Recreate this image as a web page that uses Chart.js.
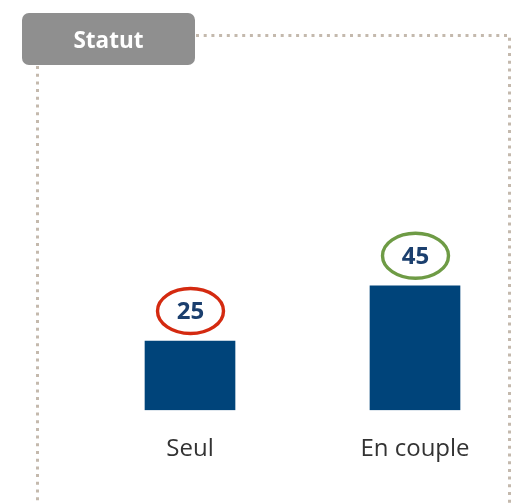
<!DOCTYPE html>
<html>
<head>
<meta charset="utf-8">
<script src="https://cdn.jsdelivr.net/npm/chart.js@4"></script>
<style>
  html, body { margin: 0; padding: 0; background: #fff; }
  #wrap { width: 517px; height: 504px; position: relative; }
</style>
</head>
<body>
<div id="wrap"><canvas id="myChart"></canvas></div>
<script>
const categories = ["Seul", "En couple"];
const values = [25, 45];
const ringColors = ["#d42a10", "#6e9b45"];
const panelTitle = "Statut";

// frame + title tab + circled value labels
const decorations = {
  id: "decorations",
  beforeDraw(chart) {
    const ctx = chart.ctx;
    ctx.save();
    ctx.strokeStyle = "#c4b9ad";
    ctx.lineWidth = 3;
    ctx.setLineDash([3, 4.7]);
    ctx.beginPath();
    ctx.moveTo(196, 35.5);
    ctx.lineTo(509.5, 35.5);
    ctx.lineTo(509.5, 510);
    ctx.moveTo(37.5, 66);
    ctx.lineTo(37.5, 510);
    ctx.stroke();
    ctx.setLineDash([]);

    ctx.fillStyle = "#8f8f8f";
    ctx.beginPath();
    ctx.roundRect(22, 13, 173, 52, 7);
    ctx.fill();
    ctx.fillStyle = "#ffffff";
    ctx.font = "bold 22.5px 'Open Sans'";
    ctx.textAlign = "center";
    ctx.textBaseline = "middle";
    ctx.fillText(panelTitle, 108.5, 42);
    ctx.restore();
  },
  afterDatasetsDraw(chart) {
    const ctx = chart.ctx;
    const meta = chart.getDatasetMeta(0);
    ctx.save();
    meta.data.forEach((bar, i) => {
      const cx = bar.x + 0.5;
      const cy = bar.y - 30;
      ctx.beginPath();
      ctx.ellipse(cx, cy, 33, 22.5, 0, 0, Math.PI * 2);
      ctx.lineWidth = 3.4;
      ctx.strokeStyle = ringColors[i];
      ctx.stroke();
      ctx.fillStyle = "#1b3f6e";
      ctx.font = "bold 24px 'Open Sans'";
      ctx.textAlign = "center";
      ctx.textBaseline = "middle";
      ctx.fillText(String(values[i]), cx, cy + 1);
    });
    ctx.restore();
  }
};

new Chart(document.getElementById("myChart"), {
  type: "bar",
  data: {
    datasets: [
      {
        data: values.map((v, i) => ({ x: i, y: v })),
        backgroundColor: "#00447a",
        barThickness: 90,
      },
    ],
  },
  options: {
    responsive: true,
    maintainAspectRatio: false,
    animation: false,
    layout: { padding: { left: 40, right: 8, top: 81, bottom: 15 } },
    plugins: {
      legend: { display: false },
      tooltip: { enabled: false },
    },
    scales: {
      x: {
        type: "linear",
        offset: false,
        min: -0.6667,
        max: 1.4178,
        grid: { display: false, drawTicks: false },
        border: { display: false },
        afterBuildTicks: (scale) => {
          scale.ticks = categories.map((c, i) => ({ value: i }));
        },
        ticks: {
          padding: 25,
          color: "#333333",
          font: { family: "'Open Sans'", size: 24 },
          callback: (value) => categories[value],
        },
      },
      y: {
        display: false,
        min: 0,
        max: 119,
      },
    },
  },
  plugins: [decorations],
});
</script>
</body>
</html>
